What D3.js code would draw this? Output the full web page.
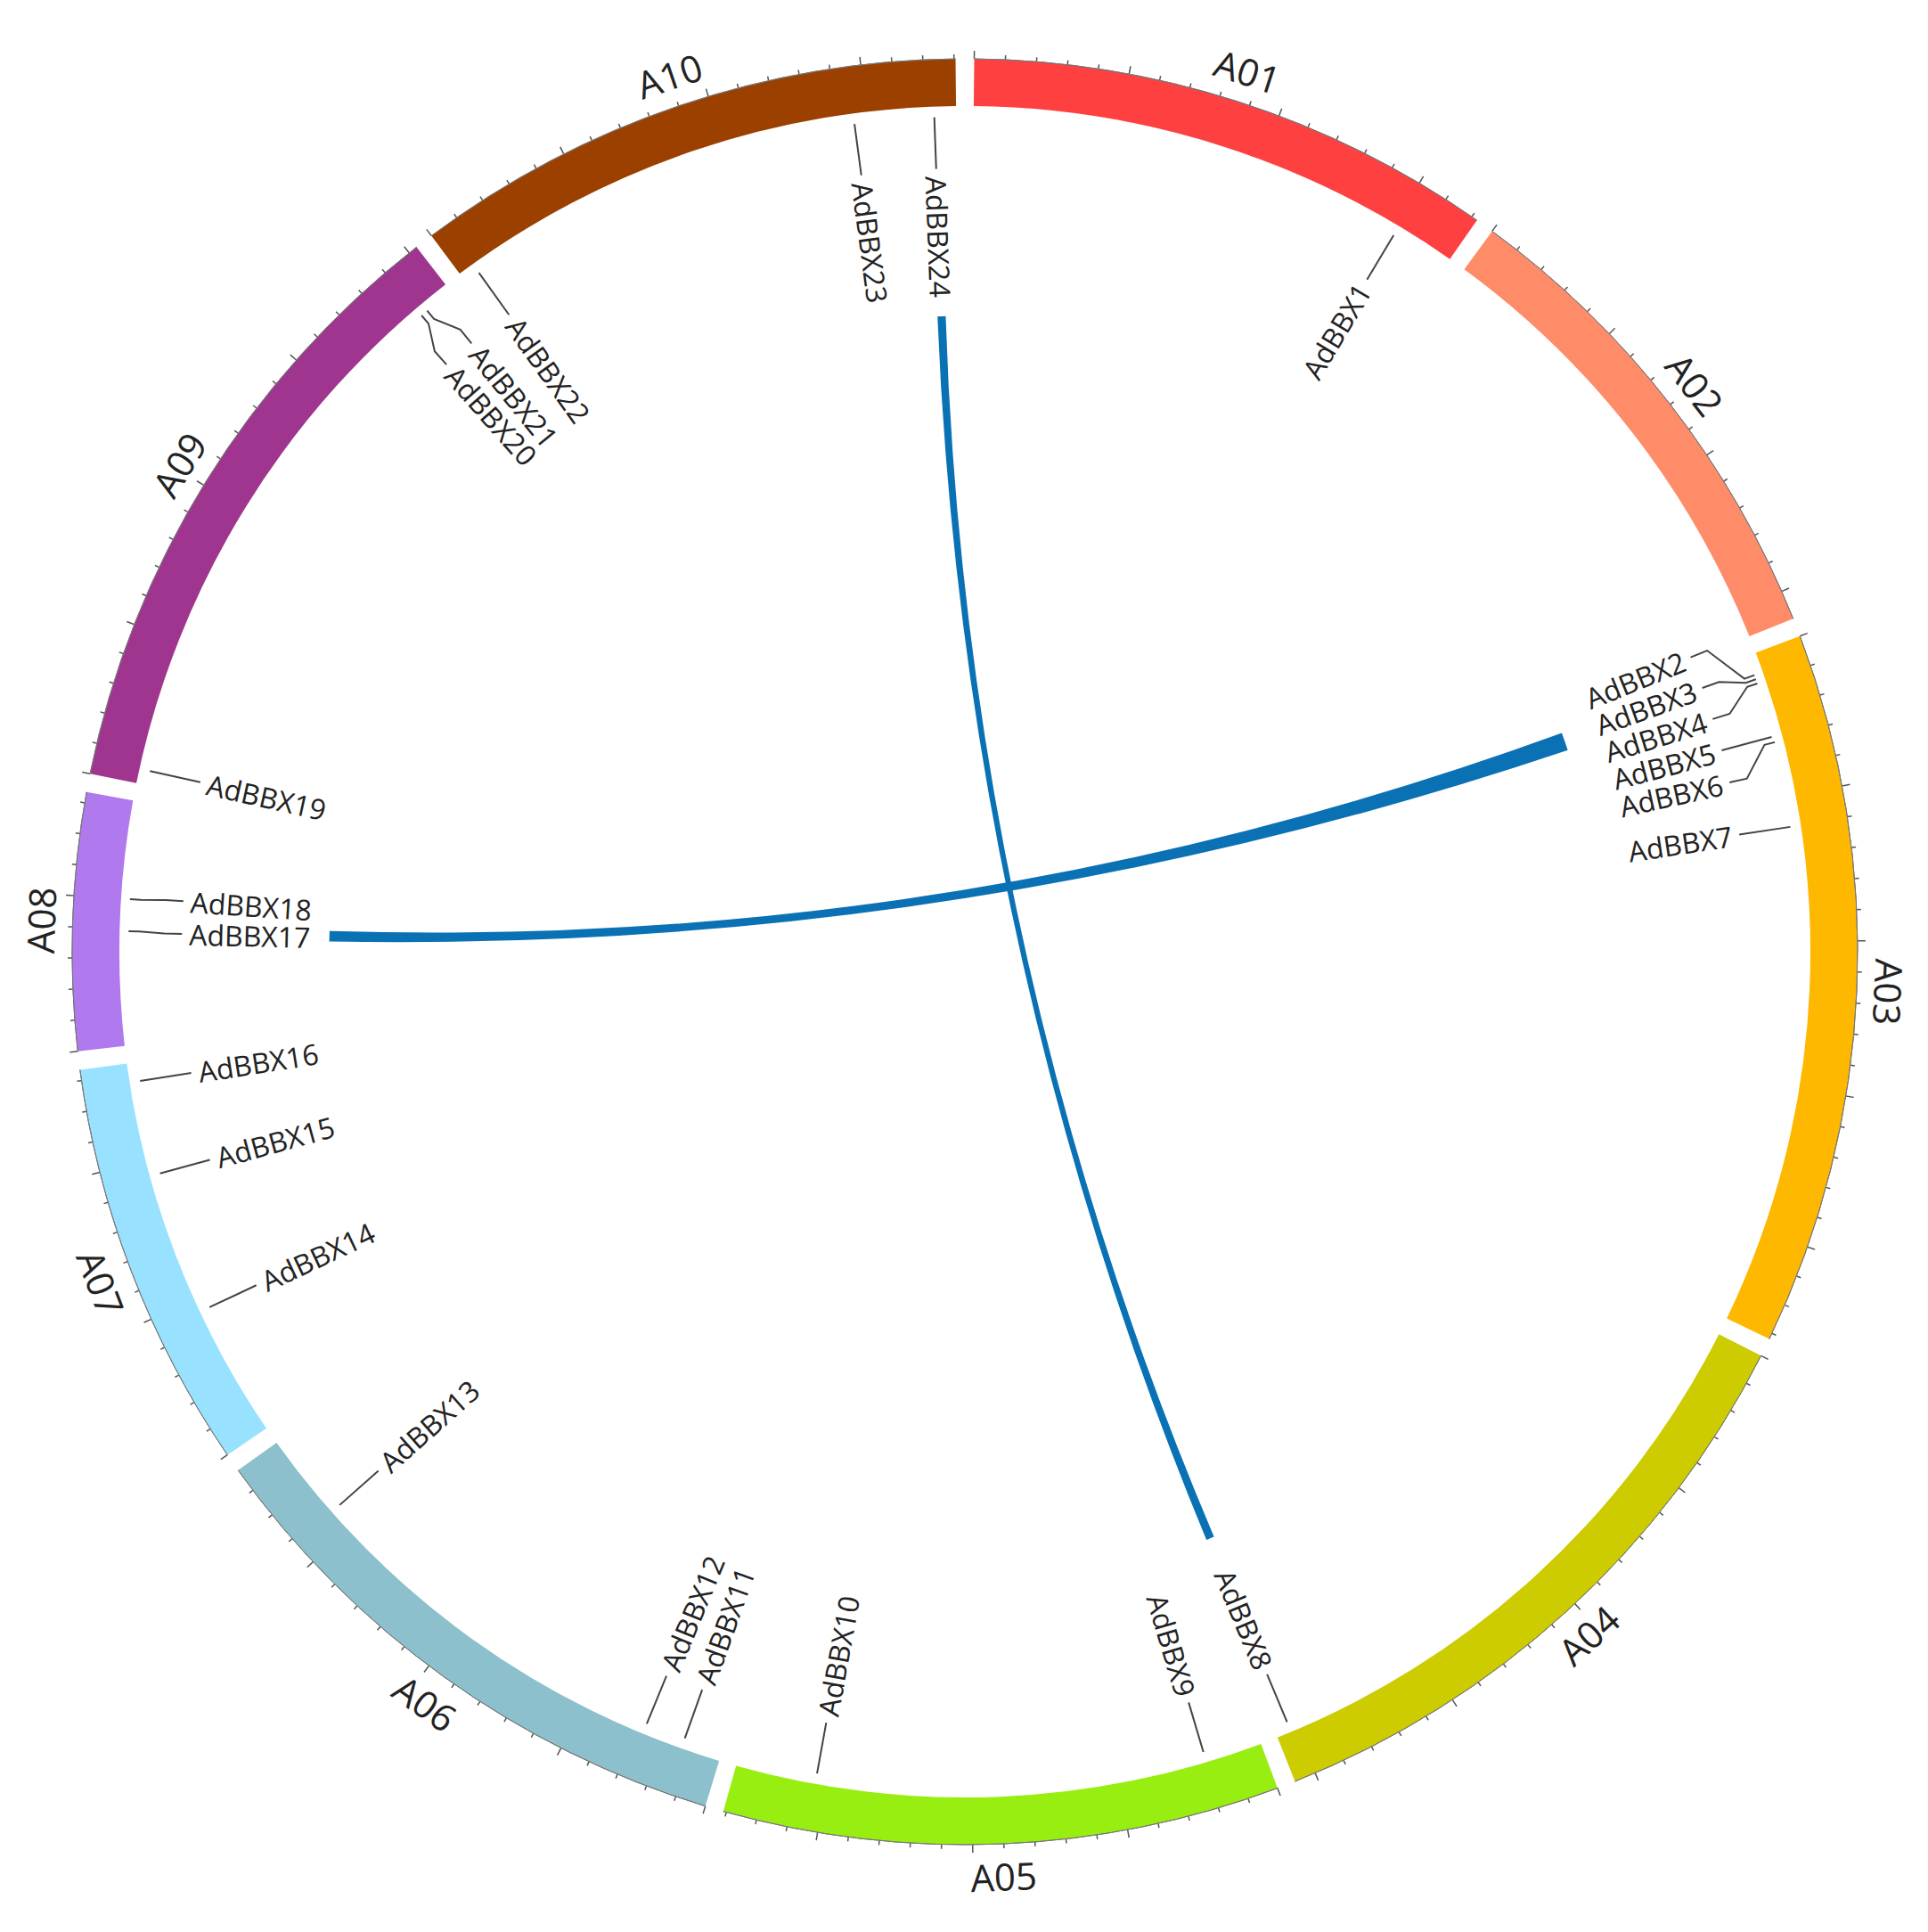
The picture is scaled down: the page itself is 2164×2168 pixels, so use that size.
<!DOCTYPE html>
<html>
<head>
<meta charset="utf-8">
<script src="https://cdn.jsdelivr.net/npm/d3@7"></script>
<style>
  body { margin: 0; background: #fff; }
  text { font-family: "Open Sans", sans-serif; fill: #222; }
</style>
</head>
<body>
<script>
// chromosomes (lengths in Mb)
var chromNames = ["A01", "A02", "A03", "A04", "A05", "A06", "A07", "A08", "A09", "A10"];
var chromLengths = [34.4, 31.9, 46.4, 41.4, 36.2, 37.6, 26.7, 16.7, 40.6, 36.1];
var chromColors = ["#ff4040", "#ff8c69", "#ffb800", "#cccc00", "#99ee11",
                   "#8bc0cc", "#99e2ff", "#b07aee", "#a0358f", "#9c4000"];

// genes: name, chromosome, position (Mb)
var geneNames = ["AdBBX1", "AdBBX2", "AdBBX3", "AdBBX4", "AdBBX5", "AdBBX6", "AdBBX7", "AdBBX8",
                 "AdBBX9", "AdBBX10", "AdBBX11", "AdBBX12", "AdBBX13", "AdBBX14", "AdBBX15", "AdBBX16",
                 "AdBBX17", "AdBBX18", "AdBBX19", "AdBBX20", "AdBBX21", "AdBBX22", "AdBBX23", "AdBBX24"];
var geneChroms = ["A01", "A03", "A03", "A03", "A03", "A03", "A03", "A04",
                  "A05", "A05", "A06", "A06", "A06", "A07", "A07", "A07",
                  "A08", "A08", "A09", "A09", "A09", "A10", "A10", "A10"];
var genePos = [30.3, 1.4, 1.7, 2.0, 5.8, 6.2, 12.1, 40.4,
               3.9, 30.7, 2.7, 5.5, 31.6, 9.1, 18.9, 25.4,
               7.8, 10.0, 1.0, 38.0, 38.5, 1.1, 29.1, 34.6];

// segmental duplication links: [geneA, geneB, half-width in Mb at A, at B]
var links = [["AdBBX24", "AdBBX8", 0.25, 0.25], ["AdBBX2", "AdBBX17", 0.7, 0.35]];

var W = 2164, H = 2168, cx = 1083, cy = 1068;
var rOut = 1002, rIn = 949, rLink = 712;
var gapDeg = 1.2;

var total = d3.sum(chromLengths);
var degPerMb = (360 - gapDeg * chromNames.length) / total;
var starts = {};
var acc = gapDeg / 2;
chromNames.forEach(function(c, i) {
  starts[c] = acc;
  acc += chromLengths[i] * degPerMb + gapDeg;
});
function ang(c, mb) { return starts[c] + mb * degPerMb; } // degrees clockwise from top
var rad = function(d) { return d * Math.PI / 180; };
function pt(a, r) { return [Math.sin(rad(a)) * r, -Math.cos(rad(a)) * r]; }

var svg = d3.select("body").append("svg")
    .attr("width", W).attr("height", H)
  .append("g")
    .attr("transform", "translate(" + cx + "," + cy + ")");

var arc = d3.arc().innerRadius(rIn).outerRadius(rOut);

chromNames.forEach(function(c, i) {
  var a0 = starts[c], a1 = a0 + chromLengths[i] * degPerMb;
  svg.append("path")
      .attr("d", arc({startAngle: rad(a0), endAngle: rad(a1)}))
      .style("fill", chromColors[i]);

  // ticks every 2 Mb, longer every 10 Mb
  var tickScale = d3.scaleLinear().domain([0, chromLengths[i]]).range([a0, a1]);
  d3.range(0, chromLengths[i], 2).forEach(function(t) {
    var a = tickScale(t), len = (t % 10 === 0) ? 9 : 5;
    var p0 = pt(a, rOut), p1 = pt(a, rOut + len);
    svg.append("line")
        .attr("x1", p0[0]).attr("y1", p0[1]).attr("x2", p1[0]).attr("y2", p1[1])
        .style("stroke", "#555").style("stroke-width", 1.5);
  });
  // outer edge line
  svg.append("path")
      .attr("d", d3.arc().innerRadius(rOut).outerRadius(rOut)({startAngle: rad(a0), endAngle: rad(a1)}))
      .style("fill", "none").style("stroke", "#777").style("stroke-width", 1);

  // chromosome label
  var am = (a0 + a1) / 2, lp = pt(am, rOut + 36);
  var rot = (am > 95 && am < 265) ? am - 180 : am;
  svg.append("text")
      .attr("transform", "translate(" + lp[0] + "," + lp[1] + ") rotate(" + rot + ")")
      .attr("text-anchor", "middle")
      .attr("dominant-baseline", "central")
      .style("font-size", "42px")
      .text(c);
});

// links (ribbons through the centre)
var ribbon = d3.ribbon().radius(rLink);
function geneAngle(name) { var i = geneNames.indexOf(name); return ang(geneChroms[i], genePos[i]); }
links.forEach(function(l) {
  var a = geneAngle(l[0]), b = geneAngle(l[1]);
  svg.append("path")
      .attr("d", ribbon({
        source: {startAngle: rad(a - l[2] * degPerMb), endAngle: rad(a + l[2] * degPerMb)},
        target: {startAngle: rad(b - l[3] * degPerMb), endAngle: rad(b + l[3] * degPerMb)}
      }))
      .style("fill", "#0a72b4").style("stroke", "#0a72b4").style("stroke-width", 3);
});

// gene labels with simple collision relaxation
var genes = geneNames.map(function(n, i) {
  var a = ang(geneChroms[i], genePos[i]);
  return {name: n, a: a, la: a};
}).sort(function(p, q) { return p.a - q.a; });
var minSep = 2.4;
for (var it = 0; it < 200; it++) {
  for (var k = 1; k < genes.length; k++) {
    var d = genes[k].la - genes[k - 1].la;
    if (d < minSep) {
      var m = (minSep - d) / 2;
      genes[k].la += m; genes[k - 1].la -= m;
    }
  }
}

genes.forEach(function(g) {
  var shifted = Math.abs(g.la - g.a) > 0.05;
  var pts = shifted
    ? [pt(g.a, rIn - 10), pt(g.a, rIn - 22), pt(g.la, rIn - 50), pt(g.la, rIn - 70)]
    : [pt(g.a, rIn - 12), pt(g.a, rIn - 70)];
  svg.append("path")
      .attr("d", d3.line()(pts))
      .style("fill", "none").style("stroke", "#444").style("stroke-width", 2);

  var right = g.la < 180;
  var tp = pt(g.la, rIn - 78);
  svg.append("text")
      .attr("transform", "translate(" + tp[0] + "," + tp[1] + ") rotate(" + (right ? g.la - 90 : g.la + 90) + ")")
      .attr("text-anchor", right ? "end" : "start")
      .attr("dominant-baseline", "central")
      .style("font-size", "32px")
      .text(g.name);
});
</script>
</body>
</html>
